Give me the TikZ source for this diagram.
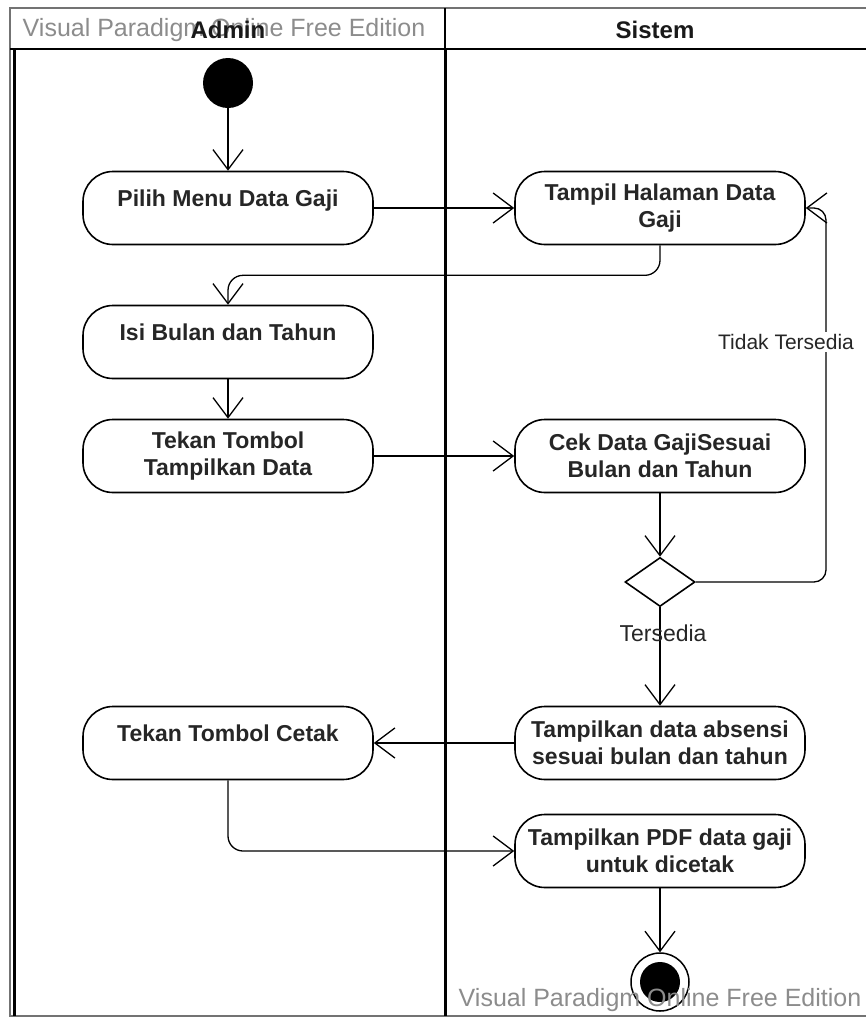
\documentclass[tikz,border=0pt]{standalone}
\usepackage{fontspec}
\setmainfont{Liberation Sans}
\usetikzlibrary{arrows.meta,shapes.geometric}
\begin{document}
\begin{tikzpicture}[x=1pt,y=-1pt,
  act/.style={draw, line width=1.6pt, rounded corners=30pt, minimum width=290pt,
    minimum height=73pt, align=center, inner sep=0pt, text=black!85,
    font=\bfseries\fontsize{23}{27}\selectfont},
  flow/.style={draw, line width=1.3pt, -{Straight Barb[length=20pt,width=30pt,line width=1.3pt]}},
  lbl/.style={font=\fontsize{21}{25}\selectfont, text=black!85},
  wm/.style={font=\fontsize{25}{28}\selectfont, text=black!45},
  hdr/.style={font=\bfseries\fontsize{24}{28}\selectfont, text=black!90}
]
\useasboundingbox (0,0) rectangle (866,1018);
% frame and lanes
\draw[black!55, line width=1.2pt] (866,8) -- (10,8) -- (10,1016) -- (866,1016);
\draw[line width=2.6pt] (10,49) -- (866,49);
\draw[line width=3pt] (14,49) -- (14,1016);
\draw[line width=1.4pt] (445,8) -- (445,49);
\draw[line width=3pt] (445,49) -- (445,1016);
% headers
\node[wm] (wmtop) at (224,30) {Visual Paradigm Online Free Edition};
\node[hdr] (hAdmin) at (228,30) {Admin};
\node[hdr] (hSistem) at (655,30) {Sistem};
% nodes
\node[circle, fill=black, minimum size=50pt, inner sep=0pt] (start) at (228,83) {};
\node[act] (pilih) at (228,208) {Pilih Menu Data Gaji\\[-7pt]~};
\node[act] (tampil) at (660,208) {Tampil Halaman Data\\Gaji};
\node[act] (isi) at (228,342) {Isi Bulan dan Tahun\\[-7pt]~};
\node[act] (tekan) at (228,456) {Tekan Tombol\\Tampilkan Data};
\node[act] (cek) at (660,456) {Cek Data GajiSesuai\\Bulan dan Tahun};
\node[diamond, draw, line width=1.6pt, minimum width=70pt, minimum height=49pt, aspect=1.43, inner sep=0pt] (dec) at (660,582) {};
\node[act] (absensi) at (660,743) {Tampilkan data absensi\\sesuai bulan dan tahun};
\node[act] (cetak) at (228,743) {Tekan Tombol Cetak\\[-7pt]~};
\node[act] (pdf) at (660,851) {Tampilkan PDF data gaji\\untuk dicetak};
\node[circle, draw, line width=1.5pt, minimum size=58pt, inner sep=0pt,
  path picture={\fill (path picture bounding box.center) circle (20pt);}] (end) at (660,982) {};
\coordinate (loopBot) at (826,582);
\coordinate (loopTop) at (826,208);
% connectors
\draw[flow] (start) -- (pilih);
\draw[flow] (pilih) -- (tampil);
\draw[flow, rounded corners=15pt] (tampil.south) -- ++(0,30) -| (isi.north);
\draw[flow] (isi) -- (tekan);
\draw[flow] (tekan) -- (cek);
\draw[flow] (cek) -- (dec);
\draw[flow, rounded corners=12pt] (dec.east) -- (loopBot) -- (loopTop) -- (tampil.east);
\node[lbl, fill=white, inner sep=2pt] (tidak) at (786,342) {Tidak Tersedia};
\draw[flow] (dec) -- (absensi);
\node[font=\fontsize{23}{26}\selectfont, text=black!85] (ada) at (663,633) {Tersedia};
\draw[flow] (absensi) -- (cetak);
\draw[flow, rounded corners=15pt] (cetak.south) |- (pdf.west);
\draw[flow] (pdf) -- (end);
\node[wm] (wmbot) at (660,1000) {Visual Paradigm Online Free Edition};
\end{tikzpicture}
\end{document}
